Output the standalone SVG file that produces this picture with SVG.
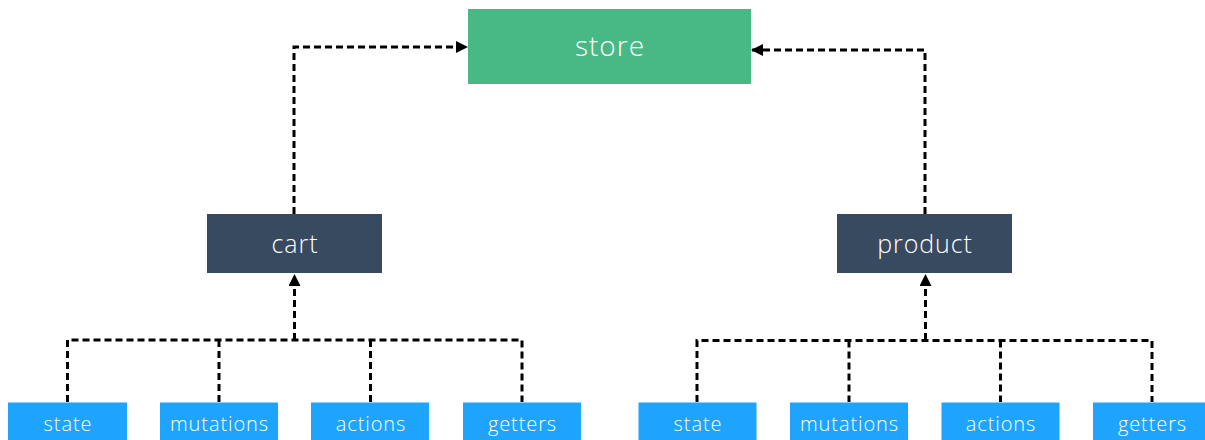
<svg xmlns="http://www.w3.org/2000/svg" width="1205" height="440" viewBox="0 0 1205 440">
  <style>
    .lbl { font-family: "Open Sans", "Liberation Sans", sans-serif; font-weight: 300; fill: #ffffff; text-anchor: middle; }
    .big { font-size: 28px; letter-spacing: 1px; }
    .mid { font-size: 25px; letter-spacing: 0.9px; }
    .sm { font-size: 20px; letter-spacing: 0.9px; }
    .store { fill: #48b884; }
    .mod { fill: #374a5f; }
    .leaf { fill: #1ea4fd; }
    .conn { fill: none; stroke: #000000; stroke-width: 3; stroke-dasharray: 7 4; }
  </style>
  <defs>
    <marker id="arr" markerUnits="userSpaceOnUse" markerWidth="12" markerHeight="12" viewBox="0 0 12 12" refX="11" refY="6" orient="auto">
      <path d="M0,0 L12,6 L0,12 Z" fill="#000000"/>
    </marker>
  </defs>
  <rect width="1205" height="440" fill="#ffffff"/>

  <g id="connectors">
    <path class="conn" d="M294,214 V47 H467" marker-end="url(#arr)"/>
    <path class="conn" d="M925,214 V50 H752" marker-end="url(#arr)"/>
    <path class="conn" d="M294.5,340 V275" marker-end="url(#arr)"/>
    <path class="conn" d="M925.5,340 V275" marker-end="url(#arr)"/>
    <path class="conn" d="M67.5,402 V340 H522 V402"/>
    <path class="conn" d="M219,340 V402"/>
    <path class="conn" d="M370.5,340 V402"/>
    <path class="conn" d="M697,402 V340.5 H1152 V402"/>
    <path class="conn" d="M849,340.5 V402"/>
    <path class="conn" d="M1000.5,340.5 V402"/>
  </g>

  <g id="store">
    <rect class="store" x="468" y="9" width="283" height="75"/>
    <text class="lbl big" x="610" y="56">store</text>
  </g>
  <g id="cart">
    <rect class="mod" x="207" y="214" width="175" height="59"/>
    <text class="lbl mid" x="295" y="252.5">cart</text>
  </g>
  <g id="product">
    <rect class="mod" x="837" y="214" width="175" height="59"/>
    <text class="lbl mid" x="925" y="252.5">product</text>
  </g>

  <g id="cart-state">
    <rect class="leaf" x="8" y="402.5" width="119" height="40"/>
    <text class="lbl sm" x="68" y="430.5">state</text>
  </g>
  <g id="cart-mutations">
    <rect class="leaf" x="160" y="402.5" width="118" height="40"/>
    <text class="lbl sm" x="219.5" y="430.5">mutations</text>
  </g>
  <g id="cart-actions">
    <rect class="leaf" x="311" y="402.5" width="118" height="40"/>
    <text class="lbl sm" x="371" y="430.5">actions</text>
  </g>
  <g id="cart-getters">
    <rect class="leaf" x="463" y="402.5" width="118" height="40"/>
    <text class="lbl sm" x="522.5" y="430.5">getters</text>
  </g>

  <g id="product-state">
    <rect class="leaf" x="638.5" y="402.5" width="118" height="40"/>
    <text class="lbl sm" x="698" y="430.5">state</text>
  </g>
  <g id="product-mutations">
    <rect class="leaf" x="790" y="402.5" width="118" height="40"/>
    <text class="lbl sm" x="849.5" y="430.5">mutations</text>
  </g>
  <g id="product-actions">
    <rect class="leaf" x="941.5" y="402.5" width="118" height="40"/>
    <text class="lbl sm" x="1001" y="430.5">actions</text>
  </g>
  <g id="product-getters">
    <rect class="leaf" x="1093" y="402.5" width="118" height="40"/>
    <text class="lbl sm" x="1152.5" y="430.5">getters</text>
  </g>
</svg>
